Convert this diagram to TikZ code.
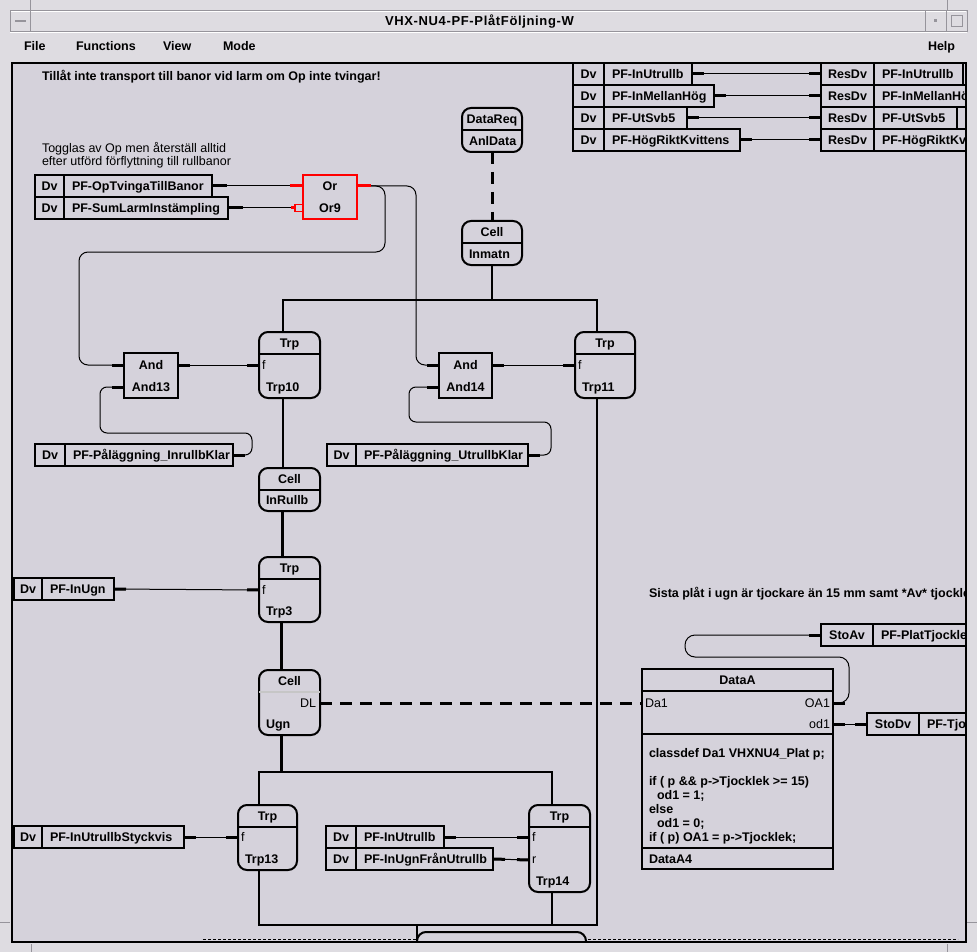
\documentclass[tikz,border=0pt]{standalone}
\usepackage{fontspec}
\setmainfont{Liberation Sans}
\usetikzlibrary{positioning}
\usetikzlibrary{arrows.meta}

\definecolor{chrome}{RGB}{222,220,225}
\definecolor{canvasbg}{RGB}{213,210,219}
\definecolor{edge}{RGB}{150,148,155}

\tikzset{
  every node/.style={font=\fontsize{12.5}{14}\selectfont\bfseries, inner sep=0pt, outer sep=0pt},
  dvcell/.style={draw, line width=2pt, minimum height=22pt, minimum width=#1, text height=9pt, text depth=0pt},
  pfname/.style={draw, line width=2pt, minimum height=22pt, inner xsep=8pt, text height=9pt, text depth=0pt,
    execute at begin node={\hbox to #1\bgroup}, execute at end node={\hss\egroup}},
  gate/.style={draw, line width=2pt, minimum width=54pt, minimum height=45pt},
  blk/.style={draw, line width=2pt, rounded corners=9pt},
  port/.style={font=\fontsize{12.5}{14}\selectfont},
  wire/.style={line width=1pt, {Rectangle[length=12pt,width=3pt]}-{Rectangle[length=12pt,width=3pt]}},
  bus/.style={line width=2.5pt},
  dlink/.style={line width=3pt, dash pattern=on 12pt off 8pt},
}

% function block: name, north west corner, width, height, type, instance
\newcommand\fblock[6]{
  \node[blk, minimum width=#3, minimum height=#4, anchor=north west] (#1) at (#2) {};
  \draw[line width=2pt] ([yshift=-22pt]#1.north west) -- ([yshift=-22pt]#1.north east);
  \node[anchor=base] at ([yshift=-15.5pt]#1.north) {#5};
  \node[anchor=base west] at ([xshift=7pt,yshift=6.5pt]#1.south west) {#6};
}

\begin{document}
\begin{tikzpicture}[x=1pt,y=-1pt]
\useasboundingbox (0,0) rectangle (977,952);

% window frame
\fill[chrome] (0,0) rectangle (977,952);
\draw[edge] (30,0) -- (30,10);
\draw[edge] (947,0) -- (947,10);
\draw[edge] (0,922) -- (10,922);
\draw[edge] (967,922) -- (977,922);
\draw[edge] (31,944) -- (31,952);
\draw[edge] (947,944) -- (947,952);
\draw[edge] (10,10) rectangle (967,31);
\draw[white] (11,11) -- (966,11);
\draw[edge] (10,10) rectangle (30,31);
\draw[edge, line width=1.5pt] (15,21) -- (26,21);
\draw[edge] (925,10) rectangle (946,31);
\fill[edge] (934,19) rectangle (937,22);
\draw[edge] (946,10) rectangle (967,31);
\draw[edge] (951,15) rectangle (962,26);
\node[anchor=base west, font=\fontsize{13}{15}\selectfont\bfseries\addfontfeature{LetterSpace=5}] (title) at (385,25.3) {VHX-NU4-PF-PlåtFöljning-W};

% menu bar
\draw[white] (10,32) -- (967,32);
\node[anchor=base west] (mfile) at (24,50.7) {File};
\node[anchor=base west] (mfunc) at (76,50.7) {Functions};
\node[anchor=base west] (mview) at (163,50.7) {View};
\node[anchor=base west] (mmode) at (223,50.7) {Mode};
\node[anchor=base west] (mhelp) at (928,50.7) {Help};

% canvas
\fill[canvasbg] (12,63) rectangle (966,942);
\begin{scope}
\clip (12,63) rectangle (966,942);

\node[anchor=base west] (note1) at (42,80.5) {Tillåt inte transport till banor vid larm om Op inte tvingar!};
\node[port, anchor=base west] (note2) at (42,152.7) {Togglas av Op men återställ alltid};
\node[port, anchor=base west] (note3) at (42,166) {efter utförd förflyttning till rullbanor};
\node[anchor=base west] (note4) at (649,597) {Sista plåt i ugn är tjockare än 15 mm samt *Av* tjocklek};

\draw[dash pattern=on 3pt off 2pt, line width=0.8pt] (203,939) -- (958,939);

% top right signals
\node[dvcell=31pt, anchor=north west] (dvt1) at (573,63) {Dv};
\node[pfname=72pt, right=0pt of dvt1] (pft1) {PF-InUtrullb};
\node[dvcell=31pt, below=0pt of dvt1] (dvt2) {Dv};
\node[pfname=94pt, right=0pt of dvt2] (pft2) {PF-InMellanHög};
\node[dvcell=31pt, below=0pt of dvt2] (dvt3) {Dv};
\node[pfname=67pt, right=0pt of dvt3] (pft3) {PF-UtSvb5};
\node[dvcell=31pt, below=0pt of dvt3] (dvt4) {Dv};
\node[pfname=120pt, right=0pt of dvt4] (pft4) {PF-HögRiktKvittens};

\node[dvcell=53pt, anchor=north west] (res1) at (821,63) {ResDv};
\node[pfname=73pt, right=0pt of res1] (pfres1) {PF-InUtrullb};
\node[dvcell=30pt, right=0pt of pfres1] (endres1) {};
\node[dvcell=53pt, below=0pt of res1] (res2) {ResDv};
\node[pfname=94pt, right=0pt of res2] (pfres2) {PF-InMellanHög};
\node[dvcell=53pt, below=0pt of res2] (res3) {ResDv};
\node[pfname=67pt, right=0pt of res3] (pfres3) {PF-UtSvb5};
\node[dvcell=30pt, right=0pt of pfres3] (endres3) {};
\node[dvcell=53pt, below=0pt of res3] (res4) {ResDv};
\node[pfname=120pt, right=0pt of res4] (pfres4) {PF-HögRiktKvittens};

\draw[wire] (pft1.east) -- (res1.west);
\draw[wire] (pft2.east) -- (res2.west);
\draw[wire] (pft3.east) -- (res3.west);
\draw[wire] (pft4.east) -- (res4.west);

% or gate
\node[dvcell=29pt, anchor=north west] (dvtvinga) at (35,175) {Dv};
\node[pfname=132pt, right=0pt of dvtvinga] (pftvinga) {PF-OpTvingaTillBanor};
\node[dvcell=29pt, below=0pt of dvtvinga] (dvlarm) {Dv};
\node[pfname=148pt, right=0pt of dvlarm] (pflarm) {PF-SumLarmInstämpling};

\node[gate, draw=red, minimum height=44pt, anchor=north west] (or9) at (303,175) {};
\node[anchor=base] at ([yshift=-15.5pt]or9.north) {Or};
\node[anchor=base] at ([yshift=-37.5pt]or9.north) {Or9};
\coordinate (or9-a) at ([yshift=-11pt]or9.north west);
\coordinate (or9-o) at ([yshift=-11pt]or9.north east);
\node[draw=red, line width=1.5pt, minimum width=8pt, minimum height=7pt, fill=canvasbg, anchor=east] (neg) at ([yshift=-33pt]or9.north west) {};

\draw[wire, {Rectangle[length=15pt,width=3pt]}-{Rectangle[length=13pt,width=3pt,color=red]}] (pftvinga.east) -- (or9-a);
\draw[wire, {Rectangle[length=15pt,width=3pt]}-{Rectangle[length=4pt,width=3pt,color=red]}] (pflarm.east) -- (neg.west);

% and gates
\node[gate, anchor=north west] (and13) at (124,353) {};
\node[anchor=base] at ([yshift=-16.5pt]and13.north) {And};
\node[anchor=base] at ([yshift=-38.5pt]and13.north) {And13};
\coordinate (and13-a) at ([yshift=-12pt]and13.north west);
\coordinate (and13-b) at ([yshift=-34pt]and13.north west);
\coordinate (and13-o) at ([yshift=-12pt]and13.north east);

\node[gate, minimum width=53pt, anchor=north west] (and14) at (439,353) {};
\node[anchor=base] at ([yshift=-16.5pt]and14.north) {And};
\node[anchor=base] at ([yshift=-38.5pt]and14.north) {And14};
\coordinate (and14-a) at ([yshift=-12pt]and14.north west);
\coordinate (and14-b) at ([yshift=-34pt]and14.north west);
\coordinate (and14-o) at ([yshift=-12pt]and14.north east);

\node[dvcell=30pt, anchor=north west] (dvinrull) at (35,444) {Dv};
\node[pfname=152pt, right=0pt of dvinrull] (pfinrull) {PF-Påläggning\_InrullbKlar};
\node[dvcell=29pt, anchor=north west] (dvutrull) at (327,444) {Dv};
\node[pfname=156pt, right=0pt of dvutrull] (pfutrull) {PF-Påläggning\_UtrullbKlar};

\draw[wire, rounded corners=9pt, {Rectangle[length=14pt,width=3pt,color=red]}-{Rectangle[length=12pt,width=3pt]}]
  (or9-o) -- (385,186) -- (385,252) -- (79,252) -- (79,365) -- (and13-a);
\draw[wire, rounded corners=9pt, {Rectangle[length=14pt,width=3pt,color=red]}-{Rectangle[length=12pt,width=3pt]}]
  (or9-o) -- (416,186) -- (416,365) -- (and14-a);
\draw[wire, rounded corners=7pt] (pfinrull.east) -- (252,455) -- (252,433) -- (100,433) -- (100,387) -- (and13-b);
\draw[wire, rounded corners=7pt] (pfutrull.east) -- (551,455) -- (551,422) -- (409,422) -- (409,387) -- (and14-b);

% cells and transports
\fblock{datareq}{462,108}{60pt}{44pt}{DataReq}{AnlData}
\fblock{cellin}{462,221}{60pt}{44pt}{Cell}{Inmatn}
\fblock{trp10}{259,332}{61pt}{66pt}{Trp}{Trp10}
\fblock{trp11}{575,332}{60pt}{66pt}{Trp}{Trp11}
\fblock{cellrull}{259,468}{61pt}{43pt}{Cell}{InRullb}
\fblock{trp3}{259,557}{61pt}{65pt}{Trp}{Trp3}
\fblock{cellugn}{259,670}{61pt}{65pt}{Cell}{Ugn}
\draw[line width=2pt, gray!45] ([yshift=-22pt]cellugn.north west) -- ([yshift=-22pt]cellugn.north east);
\fblock{trp13}{238,805}{59pt}{65pt}{Trp}{Trp13}
\fblock{trp14}{529,805}{61pt}{87pt}{Trp}{Trp14}
\node[blk, fill=canvasbg, minimum width=169pt, minimum height=60pt, anchor=north west] (trpnext) at (417,932) {};

\coordinate (trp10-f) at ([yshift=-33pt]trp10.north west);
\coordinate (trp11-f) at ([yshift=-33pt]trp11.north west);
\coordinate (trp3-f) at ([yshift=-33pt]trp3.north west);
\coordinate (trp13-f) at ([yshift=-32pt]trp13.north west);
\coordinate (trp14-f) at ([yshift=-32pt]trp14.north west);
\coordinate (trp14-r) at ([yshift=-55pt]trp14.north west);
\coordinate (cellugn-dl) at ([yshift=-33pt]cellugn.north east);
\node[port, anchor=west] at ([xshift=3pt]trp10-f) {f};
\node[port, anchor=west] at ([xshift=3pt]trp11-f) {f};
\node[port, anchor=west] at ([xshift=3pt]trp3-f) {f};
\node[port, anchor=west] at ([xshift=3pt]trp13-f) {f};
\node[port, anchor=west] at ([xshift=3pt]trp14-f) {f};
\node[port, anchor=west] at ([xshift=3pt]trp14-r) {r};
\node[port, anchor=east] at ([xshift=-4pt]cellugn-dl) {DL};

\draw[dlink] (datareq.south) -- (cellin.north);
\coordinate (splitin) at (492,300);
\draw[bus] (cellin.south) -- (splitin);
\draw[bus] ([xshift=-6.5pt]trp10.north) |- (splitin) -| ([xshift=-8pt]trp11.north);
\draw[bus] ([xshift=-6.5pt]trp10.south) -- ([xshift=-6.5pt]cellrull.north);
\draw[bus] ([xshift=-7pt]cellrull.south) -- ([xshift=-7pt]trp3.north);
\draw[bus] ([xshift=-8pt]trp3.south) -- ([xshift=-8pt]cellugn.north);
\coordinate (splitugn) at (281.5,772);
\draw[bus] ([xshift=-8pt]cellugn.south) -- (splitugn);
\draw[bus] ([xshift=-8.5pt]trp13.north) |- (splitugn) -| ([xshift=-7.5pt]trp14.north);
\coordinate (merge) at (417,925);
\draw[bus] ([xshift=-8.5pt]trp13.south) |- (merge) -| ([xshift=-8pt]trp11.south);
\draw[bus] ([xshift=-7.5pt]trp14.south) -- ([xshift=-7.5pt]trp14.south |- merge);
\draw[bus] (merge) -- (trpnext.west);

\draw[wire] (and13-o) -- (trp10-f);
\draw[wire] (and14-o) -- (trp11-f);

\node[dvcell=28pt, anchor=north west] (dvugn) at (14,578) {Dv};
\node[pfname=56pt, right=0pt of dvugn] (pfugn) {PF-InUgn};
\draw[wire] (pfugn.east) -- (trp3-f);

\node[dvcell=28pt, anchor=north west] (dvstyck) at (14,826) {Dv};
\node[pfname=126pt, right=0pt of dvstyck] (pfstyck) {PF-InUtrullbStyckvis};
\draw[wire] (pfstyck.east) -- (trp13-f);

\node[dvcell=30pt, anchor=north west] (dvutb) at (326,826) {Dv};
\node[pfname=72pt, right=0pt of dvutb] (pfutb) {PF-InUtrullb};
\node[dvcell=30pt, below=0pt of dvutb] (dvfran) {Dv};
\node[pfname=121pt, right=0pt of dvfran] (pffran) {PF-InUgnFrånUtrullb};
\draw[wire] (pfutb.east) -- (trp14-f);
\draw[wire] (pffran.east) -- (trp14-r);

% data block
\node[draw, line width=2pt, minimum width=191pt, minimum height=200pt, anchor=north west] (dataa) at (642,669) {};
\draw[line width=2pt] ([yshift=-22pt]dataa.north west) -- ([yshift=-22pt]dataa.north east);
\draw[line width=2pt] ([yshift=-65pt]dataa.north west) -- ([yshift=-65pt]dataa.north east);
\draw[line width=2pt] ([yshift=-179pt]dataa.north west) -- ([yshift=-179pt]dataa.north east);
\node[anchor=base] at ([yshift=-15.5pt]dataa.north) {DataA};
\coordinate (dataa-da1) at ([yshift=-34pt]dataa.north west);
\coordinate (dataa-oa1) at ([yshift=-34pt]dataa.north east);
\coordinate (dataa-od1) at ([yshift=-55pt]dataa.north east);
\node[port, anchor=west] at ([xshift=3pt]dataa-da1) {Da1};
\node[port, anchor=east] at ([xshift=-3pt]dataa-oa1) {OA1};
\node[port, anchor=east] at ([xshift=-3pt]dataa-od1) {od1};
\node[anchor=base west, align=left] (code) at ([xshift=7pt,yshift=-172.5pt]dataa.north west)
  {classdef Da1 VHXNU4\_Plat p;\\[14pt]if ( p \&\& p->Tjocklek >= 15)\\\hspace*{8pt}od1 = 1;\\else\\\hspace*{8pt}od1 = 0;\\if ( p) OA1 = p->Tjocklek;};
\node[anchor=base west] at ([xshift=7pt,yshift=5.5pt]dataa.south west) {DataA4};

\draw[dlink] (cellugn-dl) -- (dataa-da1);

\node[dvcell=52pt, anchor=north west] (stoav) at (821,624) {StoAv};
\node[pfname=124pt, right=0pt of stoav] (pfplat) {PF-PlatTjocklek};
\node[dvcell=52pt, anchor=north west] (stodv) at (867,713) {StoDv};
\node[pfname=90pt, right=0pt of stodv] (pftjock) {PF-Tjocklek};

\draw[wire, rounded corners=10pt] (dataa-oa1) -- (849,703) -- (849,657) -- (685,657) -- (685,635) -- (stoav.west);
\draw[wire] (dataa-od1) -- (stodv.west);
\end{scope}
\draw[line width=2pt] (12,63) rectangle (966,942);
\end{tikzpicture}
\end{document}
